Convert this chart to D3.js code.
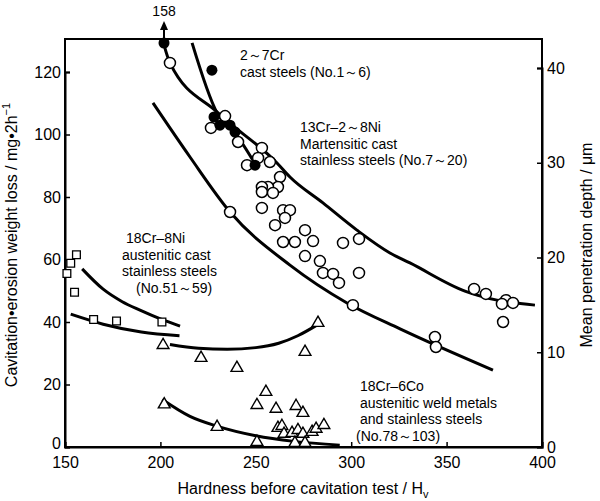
<!DOCTYPE html>
<html>
<head>
<meta charset="utf-8">
<script src="https://cdnjs.cloudflare.com/ajax/libs/d3/7.8.5/d3.min.js"></script>
<style>
  body { margin: 0; background: #fff; }
  text { font-family: "Liberation Sans", Arial, sans-serif; fill: #000; }
</style>
</head>
<body>
<svg class="chart"></svg>
<script>
// tick values
var hvTicks = [150, 200, 250, 300, 350, 400];
var lossTicks = [0, 20, 40, 60, 80, 100, 120];
var depthTicks = [0, 10, 20, 30, 40];

// 2~7Cr cast steels (filled circles) [Hv, loss]
var crCast = [[201.9, 158], [227.0, 120.6], [228.1, 105.6], [231.2, 103.0], [236.5, 103.0], [239.1, 100.8], [249.6, 90.2]];

// 13Cr-2~8Ni martensitic cast stainless (open circles)
var martensitic = [[205.0, 122.9], [226.5, 102.1], [233.9, 105.9], [240.7, 97.6], [253.2, 95.7], [245.4, 90.2],
  [251.2, 92.5], [257.4, 91.2], [262.7, 86.4], [261.6, 83.2], [256.4, 83.2], [253.2, 83.2], [253.2, 81.6],
  [259.0, 81.3], [236.5, 75.2], [253.2, 76.5], [264.3, 75.8], [267.9, 75.8], [260.1, 71.0], [265.3, 73.3],
  [264.3, 65.6], [270.5, 65.6], [275.8, 69.4], [280.0, 65.9], [295.7, 65.3], [304.1, 66.6], [275.8, 61.1],
  [283.6, 59.5], [285.2, 55.7], [290.5, 55.4], [293.6, 52.5], [304.1, 55.7], [300.9, 45.4], [364.4, 50.6],
  [370.6, 49.0], [381.1, 47.0], [379.0, 45.8], [384.8, 46.1], [379.6, 40.0], [343.9, 35.2], [344.4, 32.0]];

// 18Cr-8Ni austenitic cast stainless (open squares)
var austCast = [[151, 55.5], [153, 58.8], [156, 61.5], [155, 49.5], [165, 40.8], [177, 40.3], [200.8, 40.0]];

// 18Cr-6Co weld metals and stainless (open triangles)
var weld = [[201.4, 32.6], [221.3, 28.5], [240.1, 25.3], [275.8, 30.4], [282.6, 39.7], [255.3, 17.6], [250.6, 13.4],
  [260.6, 12.2], [271.1, 13.1], [274.7, 10.9], [202.0, 13.6], [229.7, 6.4], [250.6, 1.6], [261.6, 6.1], [263.7, 6.7],
  [264.8, 4.2], [269.0, 4.5], [272.1, 5.4], [274.7, 4.2], [270.5, 1.3], [275.8, 1.3], [279.5, 4.8], [281.6, 5.8], [285.7, 7.0]];

// fitted curves
var fitCr = [[216.6, 129.3], [229.7, 106.9], [239.1, 100.5], [250.0, 90.2]];
var fitMartUpper = [[201.9, 128.6], [205.0, 122.9], [230.2, 106.9], [261.1, 90.9], [267.9, 86.4], [285.2, 78.1],
  [303.0, 69.4], [320.3, 62.1], [330.8, 58.9], [359.6, 49.9], [376.4, 47.0], [396.3, 45.4]];
var fitMartLower = [[196.1, 110.1], [215.5, 92.8], [236.5, 75.2], [267.9, 58.2], [297.8, 46.1], [325.6, 37.8], [374.3, 24.6]];
var fitAustA = [[159, 57], [170, 50.5], [180, 46.5], [189.3, 43.8], [200, 41], [210.3, 38.7]];
var fitAustB = [[153, 42.5], [170, 39.3], [190, 36.8], [210, 35.6]];
var fitWeldA = [[205, 32.8], [220, 31.6], [235, 31.3], [250, 31.8], [262, 33.2], [272, 35.6], [282, 39.0]];
var fitWeldB = [[201, 15.2], [215.5, 9.8], [230, 6.6], [250, 3.6], [270, 1.8], [294, 0.6]];

var width = 600, height = 501;
var svg = d3.select(".chart").attr("width", width).attr("height", height);

var x = d3.scaleLinear().domain([150, 400]).range([65, 542]);
var y = d3.scaleLinear().domain([0, 120]).range([447, 72]);
var yR = d3.scaleLinear().domain([0, 40]).range([447, 68]);
var plotTop = 39;
var yMax = y.invert(plotTop + 4);

// frame
svg.append("rect").attr("x", 65).attr("y", plotTop).attr("width", 477).attr("height", 447 - plotTop)
  .attr("fill", "none").attr("stroke", "#000").attr("stroke-width", 2);

var xAxis = d3.axisBottom(x).tickValues(hvTicks).tickSize(-5).tickPadding(10);
var gx = svg.append("g").attr("transform", "translate(0,447)").call(xAxis);
var yAxis = d3.axisLeft(y).tickValues(lossTicks).tickSize(-5).tickPadding(4);
var gy = svg.append("g").attr("transform", "translate(65,0)").call(yAxis);
var yAxisR = d3.axisRight(yR).tickValues(depthTicks).tickSize(-5).tickPadding(5);
var gr = svg.append("g").attr("transform", "translate(542,0)").call(yAxisR);
[gx, gy, gr].forEach(function(g) {
  g.select(".domain").attr("stroke-width", 2);
  g.selectAll(".tick line").attr("stroke-width", 1.5);
  g.selectAll(".tick text").attr("font-size", 16).attr("font-family", "Liberation Sans, Arial, sans-serif");
});
gy.selectAll(".tick text").attr("dy", function(d) { return d === 0 ? "0.1em" : "0.32em"; });

// axis titles
svg.append("text").attr("x", 303).attr("y", 494).attr("text-anchor", "middle").attr("font-size", 16)
  .text("Hardness before cavitation test  /  H")
  .append("tspan").attr("font-size", 11).attr("dy", 4).text("v");
var yl = svg.append("text").attr("transform", "translate(17,245) rotate(-90)").attr("text-anchor", "middle").attr("font-size", 16);
yl.append("tspan").text("Cavitation\u2022erosion weight loss  /  mg\u20222h");
yl.append("tspan").attr("font-size", 11).attr("dy", -7).text("\u22121");
svg.append("text").attr("transform", "translate(592,245) rotate(-90)").attr("text-anchor", "middle").attr("font-size", 16)
  .text("Mean penetration depth  /  \u03bcm");

// curves
var line = d3.line().x(function(d) { return x(d[0]); }).y(function(d) { return y(d[1]); }).curve(d3.curveMonotoneX);
[fitCr, fitMartUpper, fitMartLower, fitAustA, fitAustB, fitWeldA, fitWeldB].forEach(function(c) {
  svg.append("path").datum(c).attr("d", line).attr("fill", "none").attr("stroke", "#000").attr("stroke-width", 3);
});

function px(d) { return x(d[0]); }
function py(d) { return y(Math.min(d[1], yMax)); }

svg.append("g").selectAll("circle").data(martensitic).enter().append("circle")
  .attr("cx", px).attr("cy", py).attr("r", 5.5).attr("fill", "#fff").attr("stroke", "#000").attr("stroke-width", 1.5);
svg.append("g").selectAll("circle").data(crCast).enter().append("circle")
  .attr("cx", px).attr("cy", py).attr("r", 5.5).attr("fill", "#000");
svg.append("g").selectAll("path").data(austCast).enter().append("path")
  .attr("d", d3.symbol().type(d3.symbolSquare).size(60))
  .attr("transform", function(d) { return "translate(" + px(d) + "," + py(d) + ")"; })
  .attr("fill", "#fff").attr("stroke", "#000").attr("stroke-width", 1.3);
svg.append("g").selectAll("path").data(weld).enter().append("path")
  .attr("d", d3.symbol().type(d3.symbolTriangle).size(60))
  .attr("transform", function(d) { return "translate(" + px(d) + "," + py(d) + ")"; })
  .attr("fill", "#fff").attr("stroke", "#000").attr("stroke-width", 1.4);

// off-scale point: 158
var off = crCast[0];
svg.append("line").attr("x1", x(off[0])).attr("x2", x(off[0])).attr("y1", plotTop - 1).attr("y2", 28)
  .attr("stroke", "#000").attr("stroke-width", 2);
svg.append("path").attr("d", "M" + (x(off[0]) - 4) + ",30 L" + x(off[0]) + ",21 L" + (x(off[0]) + 4) + ",30 Z").attr("fill", "#000");
svg.append("text").attr("x", x(off[0])).attr("y", 16).attr("text-anchor", "middle").attr("font-size", 14).text(off[1]);

// annotations
function label(x0, y0, lines) {
  var t = svg.append("text").attr("font-size", 14);
  lines.forEach(function(l, i) {
    t.append("tspan").attr("x", x0 + (l[1] || 0)).attr("y", y0 + i * 16.5).text(l[0]);
  });
}
label(240, 60, [["2\uff5e7Cr"], ["cast steels (No.1\uff5e6)"]]);
label(300, 132, [["13Cr\u20132\uff5e8Ni"], ["Martensitic cast"], ["stainless steels (No.7\uff5e20)"]]);
label(122, 243, [["18Cr\u20138Ni", 4], ["austenitic cast"], ["stainless steels"], ["(No.51\uff5e59)", 14]]);
label(360, 391, [["18Cr\u20136Co"], ["austenitic weld metals"], ["and stainless steels"], ["(No.78\uff5e103)", -4]]);
</script>
</body>
</html>
